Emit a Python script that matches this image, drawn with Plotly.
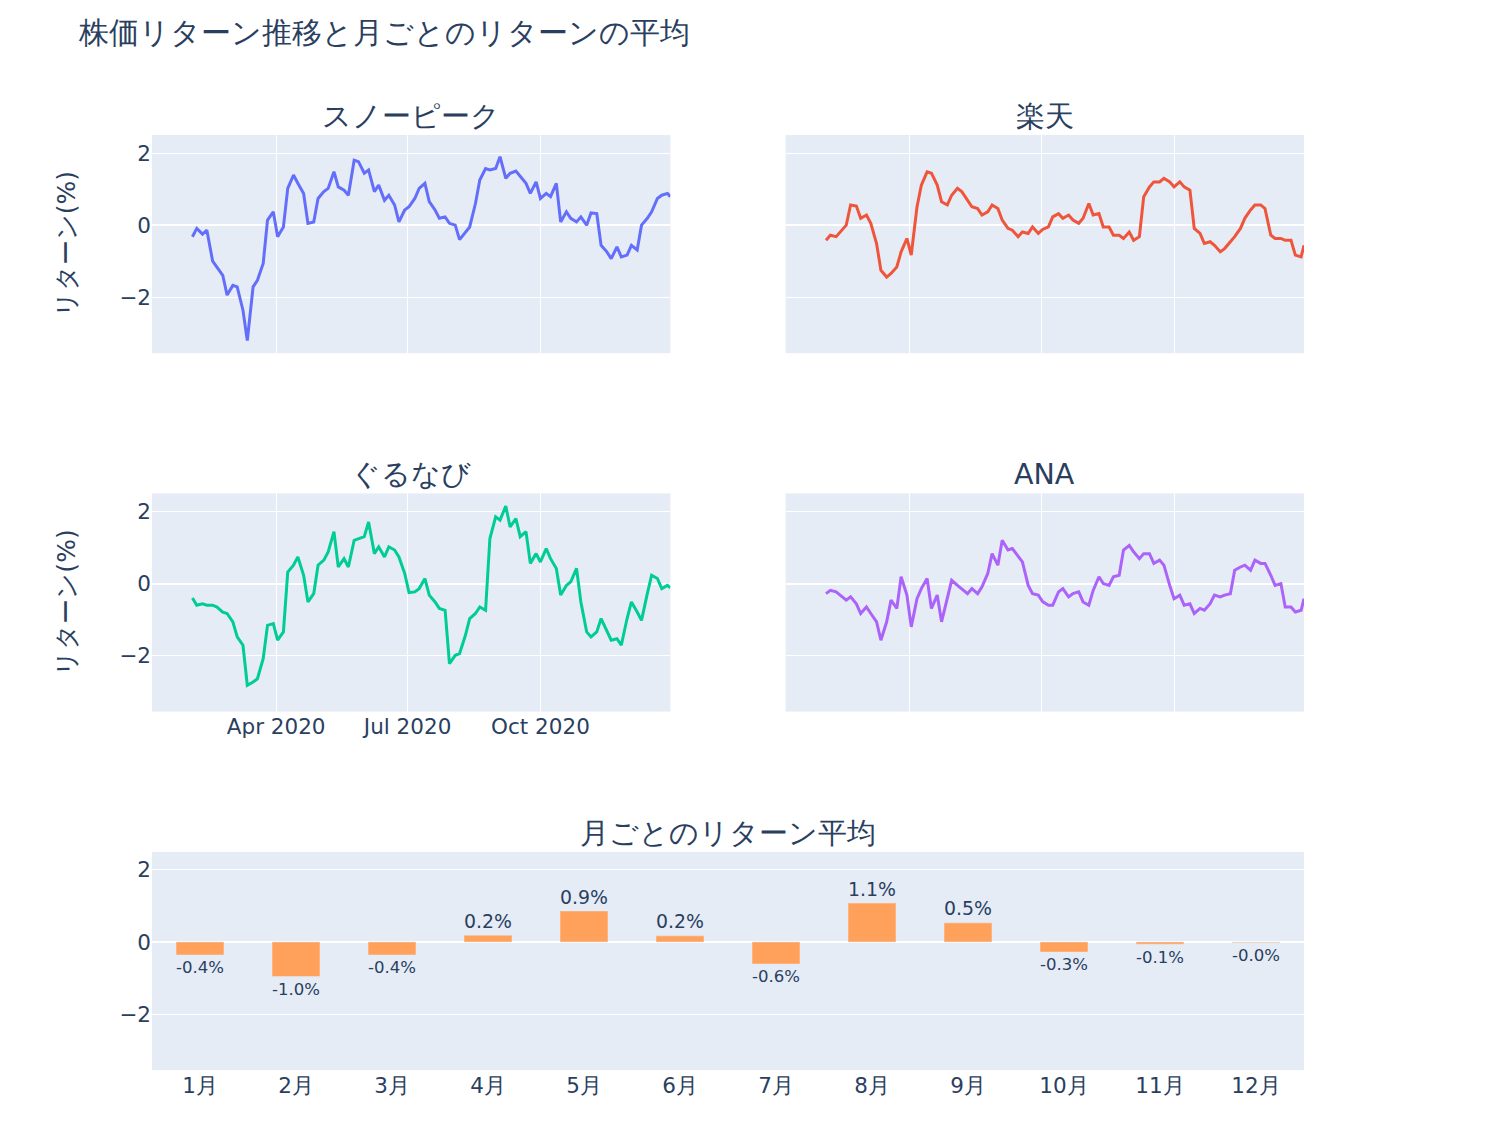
import pandas as pd
import plotly.graph_objects as go
from plotly.subplots import make_subplots

# 日付（月・木サンプル）
dates = list(pd.date_range("2020-02-03", "2020-12-28", freq="W-MON").union(
    pd.date_range("2020-02-03", "2020-12-28", freq="W-THU"))) + [pd.Timestamp("2020-12-30")]

snowpeak = [
    -0.32, -0.09, -0.25, -0.14, -1.0, -1.16, -1.39, -1.94,
    -1.67, -1.71, -2.36, -3.2, -1.71, -1.53, -1.06, 0.14, 0.37,
    -0.32, -0.05, 1.02, 1.39, 1.16, 0.88, 0.05, 0.09, 0.74,
    0.93, 1.02, 1.48, 1.06, 0.97, 0.83, 1.8, 1.76,
    1.44, 1.53, 0.93, 1.11, 0.69, 0.83, 0.56, 0.09, 0.42,
    0.51,
    0.74, 1.02, 1.16, 0.65, 0.42, 0.19, 0.23, 0.05,
    0.0, -0.4, -0.19, -0.05, 0.6, 1.25, 1.57, 1.53, 1.57,
    1.9, 1.3, 1.44, 1.5, 1.34, 1.16, 0.88, 1.2,
    0.74, 0.88, 0.79, 1.16, 0.09, 0.37, 0.19, 0.09, 0.23,
    0.0, 0.34, 0.32, -0.56, -0.74, -0.93, -0.6, -0.88, -0.83,
    -0.56, -0.69, 0.0, 0.19, 0.37, 0.74, 0.83, 0.88,
    0.79,
]
rakuten = [
    -0.42, -0.28, -0.32, -0.19, 0.0, 0.56, 0.53, 0.19,
    0.28, 0.05, -0.51, -1.25, -1.44, -1.34, -1.16, -0.74, -0.37,
    -0.83, 0.51, 1.11, 1.48, 1.44, 1.11, 0.65, 0.56, 0.83,
    1.02, 0.93, 0.69, 0.51, 0.46, 0.28, 0.37, 0.56,
    0.46, 0.14, -0.09, -0.14, -0.32, -0.19, -0.23, -0.05, -0.23,
    -0.12,
    -0.05, 0.23, 0.32, 0.19, 0.28, 0.14, 0.05, 0.19,
    0.6, 0.28, 0.32, -0.05, -0.05, -0.28, -0.28, -0.37, -0.19,
    -0.42, -0.32, 0.79, 1.06, 1.2, 1.2, 1.3, 1.2,
    1.06, 1.2, 1.06, 0.97, -0.09, -0.23, -0.51, -0.46, -0.56,
    -0.74, -0.65, -0.46, -0.32, -0.09, 0.19, 0.42, 0.56, 0.56,
    0.46, -0.28, -0.37, -0.37, -0.42, -0.42, -0.83, -0.88,
    -0.56,
]
gurunavi = [
    -0.4, -0.6, -0.56, -0.6, -0.6, -0.65, -0.79, -0.83,
    -1.06, -1.48, -1.71, -2.82, -2.73, -2.64, -2.08, -1.16, -1.11,
    -1.57, -1.34, 0.32, 0.51, 0.74, 0.23, -0.51, -0.28, 0.51,
    0.65, 0.88, 1.44, 0.46, 0.69, 0.46, 1.2, 1.25,
    1.3, 1.71, 0.83, 1.02, 0.74, 1.02, 0.93, 0.74, 0.28,
    -0.25,
    -0.23, -0.14, 0.14, -0.32, -0.51, -0.69, -0.74, -2.22,
    -1.99, -1.94, -1.44, -0.97, -0.83, -0.65, -0.74, 1.25, 1.85,
    1.76, 2.15, 1.57, 1.8, 1.3, 1.44, 0.56, 0.83,
    0.6, 0.97, 0.69, 0.42, -0.32, -0.05, 0.05, 0.42, -0.51,
    -1.34, -1.48, -1.34, -0.97, -1.3, -1.57, -1.53, -1.71, -0.97,
    -0.51, -0.79, -1.02, -0.28, 0.23, 0.14, -0.14, -0.05,
    -0.12,
]
ana = [
    -0.28, -0.19, -0.23, -0.32, -0.46, -0.37, -0.56, -0.83,
    -0.65, -0.83, -1.06, -1.57, -1.06, -0.46, -0.69, 0.19, -0.32,
    -1.2, -0.42, -0.14, 0.14, -0.69, -0.32, -1.06, -0.42, 0.09,
    -0.05, -0.14, -0.28, -0.14, -0.28, -0.09, 0.28, 0.83,
    0.51, 1.2, 0.93, 0.97, 0.74, 0.6, -0.05, -0.28, -0.32,
    -0.5,
    -0.6, -0.6, -0.23, -0.14, -0.37, -0.28, -0.23, -0.51,
    -0.6, -0.19, 0.19, 0.0, -0.05, 0.19, 0.23, 0.93, 1.06,
    0.88, 0.69, 0.83, 0.83, 0.56, 0.65, 0.51, -0.05,
    -0.42, -0.32, -0.6, -0.56, -0.83, -0.69, -0.74, -0.56, -0.32,
    -0.37, -0.32, -0.28, 0.37, 0.46, 0.51, 0.37, 0.65, 0.56,
    0.56, 0.23, -0.05, 0.0, -0.65, -0.65, -0.79, -0.74,
    -0.42,
]

months = ["1月", "2月", "3月", "4月", "5月", "6月", "7月", "8月", "9月", "10月", "11月", "12月"]
monthly_mean = [-0.36, -0.96, -0.36, 0.19, 0.86, 0.17, -0.61, 1.08, 0.53, -0.28, -0.06, -0.02]

names = ["スノーピーク", "楽天", "ぐるなび", "ANA"]
series = [snowpeak, rakuten, gurunavi, ana]
colors = ["#636EFA", "#EF553B", "#00CC96", "#AB63FA"]

fig = make_subplots(
    rows=3, cols=2,
    specs=[[{}, {}], [{}, {}], [{"colspan": 2}, None]],
    subplot_titles=names + ["月ごとのリターン平均"],
    horizontal_spacing=0.1,
    vertical_spacing=0.15,
)

for i, (name, vals, c) in enumerate(zip(names, series, colors)):
    fig.add_trace(
        go.Scatter(x=dates, y=vals, mode="lines", name=name, line=dict(color=c, width=3)),
        row=i // 2 + 1, col=i % 2 + 1,
    )

fig.add_trace(
    go.Bar(x=months, y=monthly_mean, name="平均", marker_color="#FFA15A",
           text=[f"{v:.1f}%" for v in monthly_mean], textposition="outside"),
    row=3, col=1,
)

yr = [-3.55, 2.5]
for r in (1, 2):
    for c in (1, 2):
        fig.update_xaxes(range=["2020-01-06", "2020-12-30"], dtick="M3", tick0="2020-01-01",
                         tickformat="%b %Y", showticklabels=(r == 2 and c == 1), row=r, col=c)
        fig.update_yaxes(range=yr, tick0=0, dtick=2, showticklabels=(c == 1), row=r, col=c)
    fig.update_yaxes(title_text="リターン(%)", title_standoff=36, title_font_size=25, row=r, col=1)
fig.update_yaxes(range=yr, tick0=0, dtick=2, row=3, col=1)
fig.update_xaxes(showgrid=False, row=3, col=1)

fig.update_annotations(font_size=28.5)

fig.update_layout(
    width=1500,
    height=1126,
    font=dict(family="Verdana, DejaVu Sans, sans-serif", size=21.5),
    title=dict(text="株価リターン推移と月ごとのリターンの平均", x=0.0473, y=0.978,
               yanchor="middle", font_size=29.5),
    showlegend=False,
    bargap=0.5,
    margin=dict(l=144, r=204, t=127, b=64),
)

fig.write_html("out.html")
